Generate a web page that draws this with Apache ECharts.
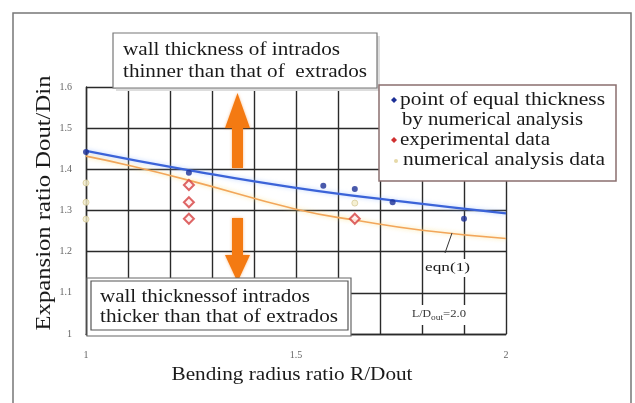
<!DOCTYPE html>
<html>
<head>
<meta charset="utf-8">
<script src="https://cdn.jsdelivr.net/npm/echarts@6/dist/echarts.min.js"></script>
<style>
html,body{margin:0;padding:0;background:#fff;}
#chart{width:635px;height:403px;}
</style>
</head>
<body>
<div id="chart"></div>
<script>
// ---- data ----
const xTickLabels = ['1', '1.5', '2'];
const yTickLabels = ['1', '1.1', '1.2', '1.3', '1.4', '1.5', '1.6'];

const equalFitX = [1.0, 1.25, 1.5, 1.75, 2.0];
const equalFitY = [1.445, 1.397, 1.355, 1.322, 1.293];

const eqn1X = [1.0, 1.1, 1.25, 1.5, 1.65, 1.8, 2.0];
const eqn1Y = [1.432, 1.41, 1.372, 1.303, 1.275, 1.252, 1.232];

const equalPtsX = [1.0, 1.245, 1.565, 1.64, 1.73, 1.9];
const equalPtsY = [1.442, 1.392, 1.36, 1.352, 1.32, 1.28];

const expX = [1.245, 1.245, 1.245, 1.64];
const expY = [1.362, 1.32, 1.28, 1.28];

const numX = [1.0, 1.0, 1.0, 1.64];
const numY = [1.367, 1.32, 1.279, 1.318];

const FONT = '"Liberation Serif", "Times New Roman", serif';

// ---- helpers ----
const mctx = document.createElement('canvas').getContext('2d');
function measure(t, size) { mctx.font = size + 'px ' + FONT; return mctx.measureText(t).width; }
function fitText(t, x, y, size, width, extra) {
  const e = Object.assign({
    type: 'text', x: x, y: y, z: 100,
    scaleX: width / measure(t, size),
    style: { text: t, font: size + 'px ' + FONT, fill: '#1a1a1a', textVerticalAlign: 'middle', textAlign: 'left' }
  }, extra || {});
  return e;
}
function zip(xs, ys) { return xs.map((v, i) => [v, ys[i]]); }

const chart = echarts.init(document.getElementById('chart'));

const orange = '#f47a12';
const graphics = [
  // outer frame
  { type: 'rect', shape: { x: 13, y: 13, width: 618, height: 400 }, style: { fill: 'none', stroke: '#777', lineWidth: 1.5 }, z: 100 },
  // top box
  { type: 'rect', shape: { x: 116, y: 36, width: 264, height: 55 }, style: { fill: '#ddd', stroke: 'none' }, z: 99 },
  { type: 'rect', shape: { x: 113, y: 33, width: 264, height: 55 }, style: { fill: '#fff', stroke: '#777', lineWidth: 1.2 }, z: 100 },
  fitText('wall thickness of intrados', 123, 50, 18, 217, { z: 101 }),
  fitText('thinner than that of  extrados', 123, 72, 18, 244, { z: 101 }),
  // bottom box
  { type: 'rect', shape: { x: 87, y: 278, width: 264, height: 58 }, style: { fill: '#fff', stroke: '#666', lineWidth: 1.2 }, z: 99 },
  { type: 'rect', shape: { x: 91, y: 281, width: 257, height: 49 }, style: { fill: '#fff', stroke: '#555', lineWidth: 1.2 }, z: 100 },
  fitText('wall thicknessof intrados', 100, 297, 18, 210, { z: 101 }),
  fitText('thicker than that of extrados', 100, 317, 18, 238, { z: 101 }),
  // legend box
  { type: 'rect', shape: { x: 379, y: 85, width: 237, height: 96 }, style: { fill: '#fff', stroke: '#8a6f6f', lineWidth: 1.5 }, z: 100 },
  fitText('point of equal thickness', 400, 100, 18, 205, { z: 101 }),
  fitText('by numerical analysis', 402, 120, 18, 181, { z: 101 }),
  fitText('experimental data', 400, 140, 18, 150, { z: 101 }),
  fitText('numerical analysis data', 403, 160, 18, 202, { z: 101 }),
  { type: 'polygon', shape: { points: [[394, 97], [397, 100], [394, 103], [391, 100]] }, style: { fill: '#1c2f96' }, z: 101 },
  { type: 'polygon', shape: { points: [[394, 137], [397, 140], [394, 143], [391, 140]] }, style: { fill: '#d03030' }, z: 101 },
  { type: 'circle', shape: { cx: 396, cy: 161, r: 2 }, style: { fill: '#e6d9a8' }, z: 101 },
  // arrows
  { type: 'polygon', shape: { points: [[232, 168], [243, 168], [243, 128], [250, 128], [237.5, 93], [225, 128], [232, 128]] },
    style: { fill: orange, shadowBlur: 3, shadowColor: 'rgba(244,122,18,0.5)' }, z: 90 },
  { type: 'polygon', shape: { points: [[232, 218], [243, 218], [243, 255], [250, 255], [237.5, 282], [225, 255], [232, 255]] },
    style: { fill: orange, shadowBlur: 3, shadowColor: 'rgba(244,122,18,0.5)' }, z: 90 },
  // axis names
  fitText('Bending radius ratio R/Dout', 292, 375, 19, 241, { style: { text: 'Bending radius ratio R/Dout', font: '19px ' + FONT, fill: '#1a1a1a', textAlign: 'center', textVerticalAlign: 'middle' } }),
  fitText('Expansion ratio Dout/Din', 44, 203, 21, 255, { rotation: Math.PI / 2, style: { text: 'Expansion ratio Dout/Din', font: '21px ' + FONT, fill: '#1a1a1a', textAlign: 'center', textVerticalAlign: 'middle' } }),
  // eqn(1) annotation
  { type: 'line', shape: { x1: 452, y1: 233, x2: 445, y2: 253 }, style: { stroke: '#333', lineWidth: 1 }, z: 100 },
  { type: 'rect', shape: { x: 424, y: 259, width: 48, height: 18 }, style: { fill: '#fff' }, z: 99 },
  fitText('eqn(1)', 425, 268, 13, 45, { z: 101 }),
  // L/Dout = 2.0 annotation
  { type: 'rect', shape: { x: 410, y: 305, width: 60, height: 20 }, style: { fill: '#fff' }, z: 99 },
  fitText('L/D', 412, 314, 11, 19, { z: 101, style: { text: 'L/D', font: '11px ' + FONT, fill: '#333', textVerticalAlign: 'middle' } }),
  fitText('out', 431, 318, 8, 12, { z: 101, style: { text: 'out', font: '8px ' + FONT, fill: '#333', textVerticalAlign: 'middle' } }),
  fitText('=2.0', 443, 314, 11, 23, { z: 101, style: { text: '=2.0', font: '11px ' + FONT, fill: '#333', textVerticalAlign: 'middle' } })
];

chart.setOption({
  animation: false,
  backgroundColor: '#fff',
  grid: { left: 86, right: 129, top: 87, bottom: 69 },
  xAxis: {
    type: 'value', min: 1, max: 2, interval: 0.1,
    axisLine: { show: true, lineStyle: { color: '#2a2a2a', width: 1.4 } },
    axisTick: { show: false },
    splitLine: { show: true, lineStyle: { color: '#2a2a2a', width: 1.4 } },
    axisLabel: {
      margin: 16, color: '#666', fontSize: 10, fontFamily: FONT,
      formatter: v => { const s = xTickLabels.find(t => Math.abs(parseFloat(t) - v) < 1e-6); return s || ''; }
    }
  },
  yAxis: {
    type: 'value', min: 1, max: 1.6, interval: 0.1,
    axisLine: { show: true, lineStyle: { color: '#2a2a2a', width: 1.4 } },
    axisTick: { show: false },
    splitLine: { show: true, lineStyle: { color: '#2a2a2a', width: 1.4 } },
    axisLabel: {
      margin: 14, color: '#666', fontSize: 10, fontFamily: FONT,
      formatter: v => { const s = yTickLabels.find(t => Math.abs(parseFloat(t) - v) < 1e-6); return s || ''; }
    }
  },
  series: [
    { type: 'line', name: 'eqn(1)', data: zip(eqn1X, eqn1Y), smooth: true, showSymbol: false, symbol: 'none',
      lineStyle: { color: '#f2a65a', width: 1.6, shadowBlur: 4, shadowColor: 'rgba(250,220,120,0.8)' }, z: 3 },
    { type: 'line', name: 'fit', data: zip(equalFitX, equalFitY), smooth: true, showSymbol: false, symbol: 'none',
      lineStyle: { color: '#3b63d8', width: 2.2, shadowBlur: 4, shadowColor: 'rgba(140,180,255,0.6)' }, z: 4 },
    { type: 'scatter', name: 'numerical analysis data', data: zip(numX, numY), symbol: 'circle', symbolSize: 6,
      itemStyle: { color: '#f3ecc8', borderColor: '#d8cc9a', borderWidth: 1 }, z: 5 },
    { type: 'scatter', name: 'experimental data', data: zip(expX, expY), symbol: 'diamond', symbolSize: 10,
      itemStyle: { color: '#fff0f0', borderColor: '#d64040', borderWidth: 2 }, z: 6 },
    { type: 'scatter', name: 'point of equal thickness', data: zip(equalPtsX, equalPtsY), symbol: 'circle', symbolSize: 6,
      itemStyle: { color: '#1c2f96' }, z: 7 }
  ],
  graphic: graphics
});
</script>
</body>
</html>
